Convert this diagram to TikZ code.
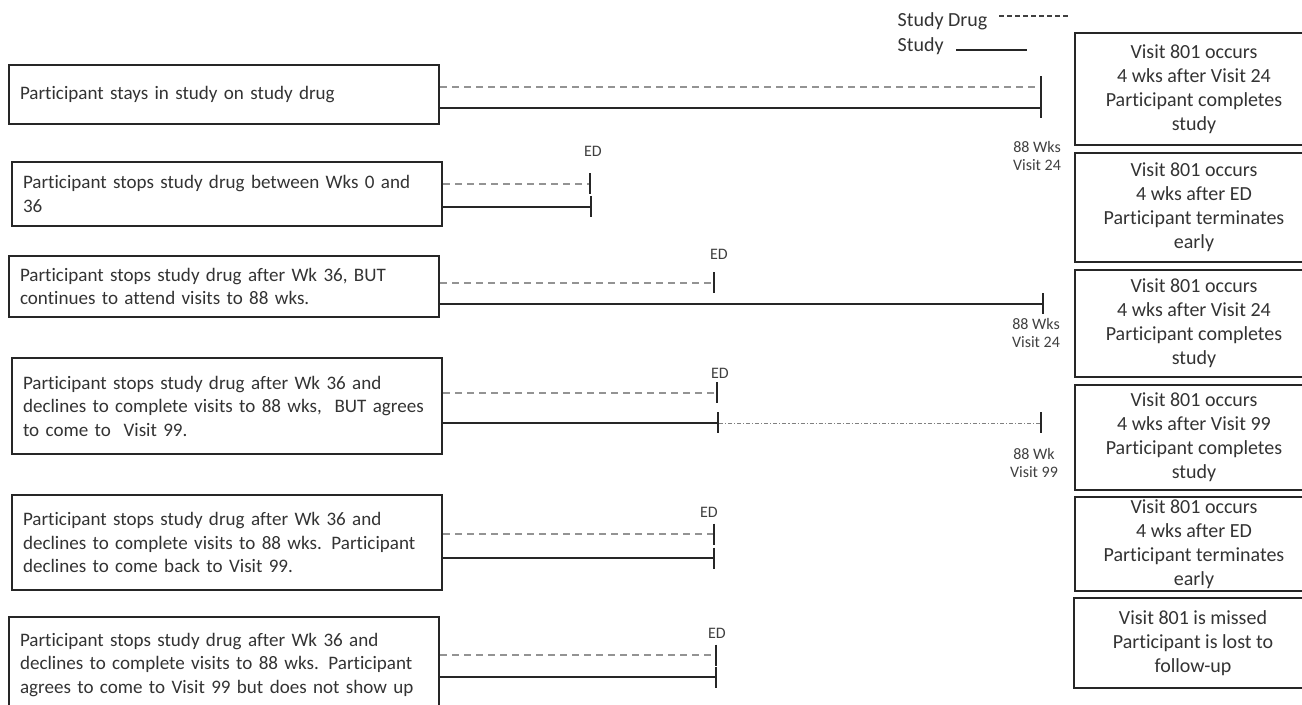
\documentclass[tikz,border=0pt]{standalone}
\usepackage{fontspec}
\setmainfont{Carlito}[Ligatures=NoCommon]
\usetikzlibrary{arrows.meta, positioning}
\hyphenpenalty=10000

\begin{document}
\begin{tikzpicture}[x=0.75pt, y=-0.75pt,
            casebox/.style={draw=black!85, line width=1.5pt, text=black!80, font=\fontsize{14.3pt}{17.6pt}\selectfont,
                            text width=306pt, align=left, inner xsep=8.25pt, inner ysep=0pt},
            outcomebox/.style={draw=black!85, line width=1.5pt, text=black!80, font=\fontsize{15pt}{18pt}\selectfont,
                               align=center, inner sep=0pt, minimum width=178.5pt},
            legendtext/.style={text=black!80, font=\fontsize{15pt}{17.5pt}\selectfont, anchor=west},
            marklabel/.style={text=black!75, font=\fontsize{12pt}{13.5pt}\selectfont, align=center, inner sep=0pt},
            drugline/.style={-{Bar[width=15.75pt, line width=1.5pt, color=black!85]}, gray!85, line width=1.1pt, dash pattern=on 5.25pt off 3.75pt},
            studyline/.style={-{Bar[width=15.75pt, line width=1.5pt, color=black!85]}, black!85, line width=1.6pt},
            visitline/.style={-{Bar[width=15.75pt, line width=1.5pt, color=black!85]}, gray, line width=0.7pt, dash pattern=on 3pt off 1.5pt on 0.8pt off 1.5pt},
            legenddrug/.style={black!75, line width=0.8pt, dash pattern=on 3.5pt off 2.5pt},
            legendstudy/.style={black!85, line width=1.6pt}
        ]
            \useasboundingbox (0,0) rectangle (1302,705);
            \clip (0,0) rectangle (1302,705);

            % Legend
            \node[legendtext] (lgdrug) at (893,21) {Study Drug};
            \node[legendtext] (lgstudy) at (893,46) {Study};
            \coordinate (lgdrugend) at (1070,16);
            \coordinate (lgstudyend) at (1027,50);
            \draw[legenddrug] (lgdrug.east |- lgdrugend) ++(7,0) -- (lgdrugend);
            \draw[legendstudy] (lgstudy.east |- lgstudyend) ++(8,0) -- (lgstudyend);

            % Cases
            \node[casebox, minimum height=44.25pt] (case1) at (224,94.5) {Participant stays in study on study drug};
            \node[casebox, minimum height=48pt] (case2) at (227,194) {Participant stops study drug between Wks 0 and\\36};
            \node[casebox, minimum height=45.75pt] (case3) at (224,286.5) {Participant stops study drug after Wk 36, BUT\\continues to attend visits to 88 wks.};
            \node[casebox, minimum height=72pt] (case4) at (227,406) {Participant stops study drug after Wk 36 and\\declines to complete visits to 88 wks,~ BUT agrees\\to come to~ Visit 99.};
            \node[casebox, minimum height=71.25pt] (case5) at (227,542.5) {Participant stops study drug after Wk 36 and\\declines to complete visits to 88 wks. Participant\\declines to come back to Visit 99.};
            \node[casebox, minimum height=72pt] (case6) at (224,665) {Participant stops study drug after Wk 36 and\\declines to complete visits to 88 wks. Participant\\agrees to come to Visit 99 but does not show up};

            % Outcomes
            \node[outcomebox, minimum height=84pt] (out1) at (1194,89) {Visit 801 occurs\\4 wks after Visit 24\\Participant completes\\study};
            \node[outcomebox, minimum height=81.75pt] (out2) at (1194,207.5) {Visit 801 occurs\\4 wks after ED\\Participant terminates\\early};
            \node[outcomebox, minimum height=80.25pt] (out3) at (1194,323.5) {Visit 801 occurs\\4 wks after Visit 24\\Participant completes\\study};
            \node[outcomebox, minimum height=78.75pt] (out4) at (1194,437.5) {Visit 801 occurs\\4 wks after Visit 99\\Participant completes\\study};
            \node[outcomebox, minimum height=70.5pt] (out5) at (1194,544) {Visit 801 occurs\\4 wks after ED\\Participant terminates\\early};
            \node[outcomebox, minimum height=67.5pt] (out6) at (1193,643) {Visit 801 is missed\\Participant is lost to\\follow-up};

            % Case 1: drug and study to 88 wks
            \coordinate (drug1) at (1042,87);
            \coordinate (study1) at (1042,108);
            \draw[drugline] (case1.east |- drug1) -- (drug1);
            \draw[studyline] (case1.east |- study1) -- (study1);
            \node[marklabel] (wk1) at (1037,156) {88 Wks\\Visit 24};

            % Case 2: early stop, both end at ED
            \coordinate (drug2) at (591,184);
            \coordinate (study2) at (592,207);
            \draw[drugline] (case2.east |- drug2) -- (drug2);
            \draw[studyline] (case2.east |- study2) -- (study2);
            \node[marklabel] (ed2) at (593,151) {ED};

            % Case 3: drug stops at ED, study to 88 wks
            \coordinate (drug3) at (715,283);
            \coordinate (study3) at (1044,304);
            \draw[drugline] (case3.east |- drug3) -- (drug3);
            \draw[studyline] (case3.east |- study3) -- (study3);
            \node[marklabel] (ed3) at (719,254) {ED};
            \node[marklabel] (wk3) at (1036,333) {88 Wks\\Visit 24};

            % Case 4: stop at ED, then Visit 99
            \coordinate (drug4) at (718,393);
            \coordinate (study4) at (719,423);
            \coordinate (visit4) at (1042,423);
            \draw[drugline] (case4.east |- drug4) -- (drug4);
            \draw[studyline] (case4.east |- study4) -- (study4);
            \draw[visitline] (study4) -- (visit4);
            \node[marklabel] (ed4) at (720,373) {ED};
            \node[marklabel] (wk4) at (1034,463) {88 Wk\\Visit 99};

            % Case 5: stop at ED, no Visit 99
            \coordinate (drug5) at (715,534);
            \coordinate (study5) at (715,558);
            \draw[drugline] (case5.east |- drug5) -- (drug5);
            \draw[studyline] (case5.east |- study5) -- (study5);
            \node[marklabel] (ed5) at (709,512) {ED};

            % Case 6: stop at ED, lost to follow-up
            \coordinate (drug6) at (717,655);
            \coordinate (study6) at (717,677);
            \draw[drugline] (case6.east |- drug6) -- (drug6);
            \draw[studyline] (case6.east |- study6) -- (study6);
            \node[marklabel] (ed6) at (717,633) {ED};
        \end{tikzpicture}
\end{document}
